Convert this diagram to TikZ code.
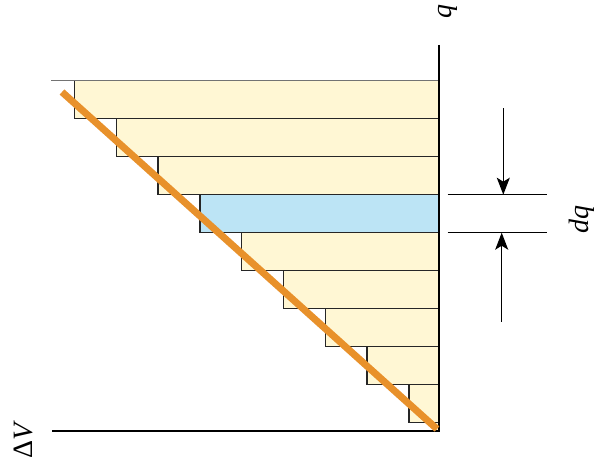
\documentclass[tikz,border=0pt]{standalone}
\usepackage{fontspec}
\newfontfamily\lblfont{Liberation Serif}
\usetikzlibrary{arrows.meta}
\definecolor{cream}{HTML}{FFF7D4}
\definecolor{lblue}{HTML}{BCE4F5}
\definecolor{orng}{HTML}{E8912B}
\begin{document}
\begin{tikzpicture}[x=1pt,y=-1pt,
  strip/.style={draw=black!85, line width=1.4pt},
  axis/.style={draw=black, line width=1.7pt},
  lbl/.style={font=\lblfont\fontsize{28}{32}\selectfont\itshape, rotate=90, inner sep=0pt},
  dim/.style={line width=1.4pt},
  arr/.style={line width=1.4pt, -{Stealth[length=17pt,width=13pt,inset=4pt]}}]
\useasboundingbox (0,0) rectangle (598,476);
\coordinate (O) at (439,431);
% strips
\foreach \i/\c in {0/cream,1/cream,2/cream,3/lblue,4/cream,5/cream,6/cream,7/cream,8/cream} {
  \pgfmathsetmacro\ya{80.7+38*\i}
  \pgfmathsetmacro\yb{\ya+38}
  \pgfmathsetmacro\xl{439-1.1*(431-(\ya+\yb)/2)}
  \path[strip, fill=\c] (\xl,\ya) rectangle (439,\yb);
}
\path[strip, fill=cream] (434.4,422.7) rectangle (439,431);
% top gray line
\draw[black!55, line width=1.4pt] (51,80.7) -- (439,80.7);
% axes
\coordinate (qtop) at (439,45);
\coordinate (vend) at (51.7,431);
\draw[axis] (qtop) -- (O) -- (vend);
% linear relation
\coordinate (Ltop) at (62,92);
\draw[orng, line width=7pt] (Ltop) -- (437,429);
% dimension marks
\coordinate (d1a) at (447.7,194.7); \coordinate (d1b) at (546.7,194.7);
\coordinate (d2a) at (447.7,232.7); \coordinate (d2b) at (546.7,232.7);
\draw[dim] (d1a) -- (d1b);
\draw[dim] (d2a) -- (d2b);
\coordinate (a1s) at (503.3,108.3); \coordinate (a1e) at (503.3,194.7);
\coordinate (a2s) at (501.7,321.7); \coordinate (a2e) at (501.7,232.7);
\draw[arr] (a1s) -- (a1e);
\draw[arr] (a2s) -- (a2e);
% labels
\node[lbl] (q) at (448,12) {q};
\node[lbl] (dq) at (582,220) {dq};
\node[lbl] (dV) at (23,441) {{\upshape Δ}V};
\end{tikzpicture}
\end{document}
